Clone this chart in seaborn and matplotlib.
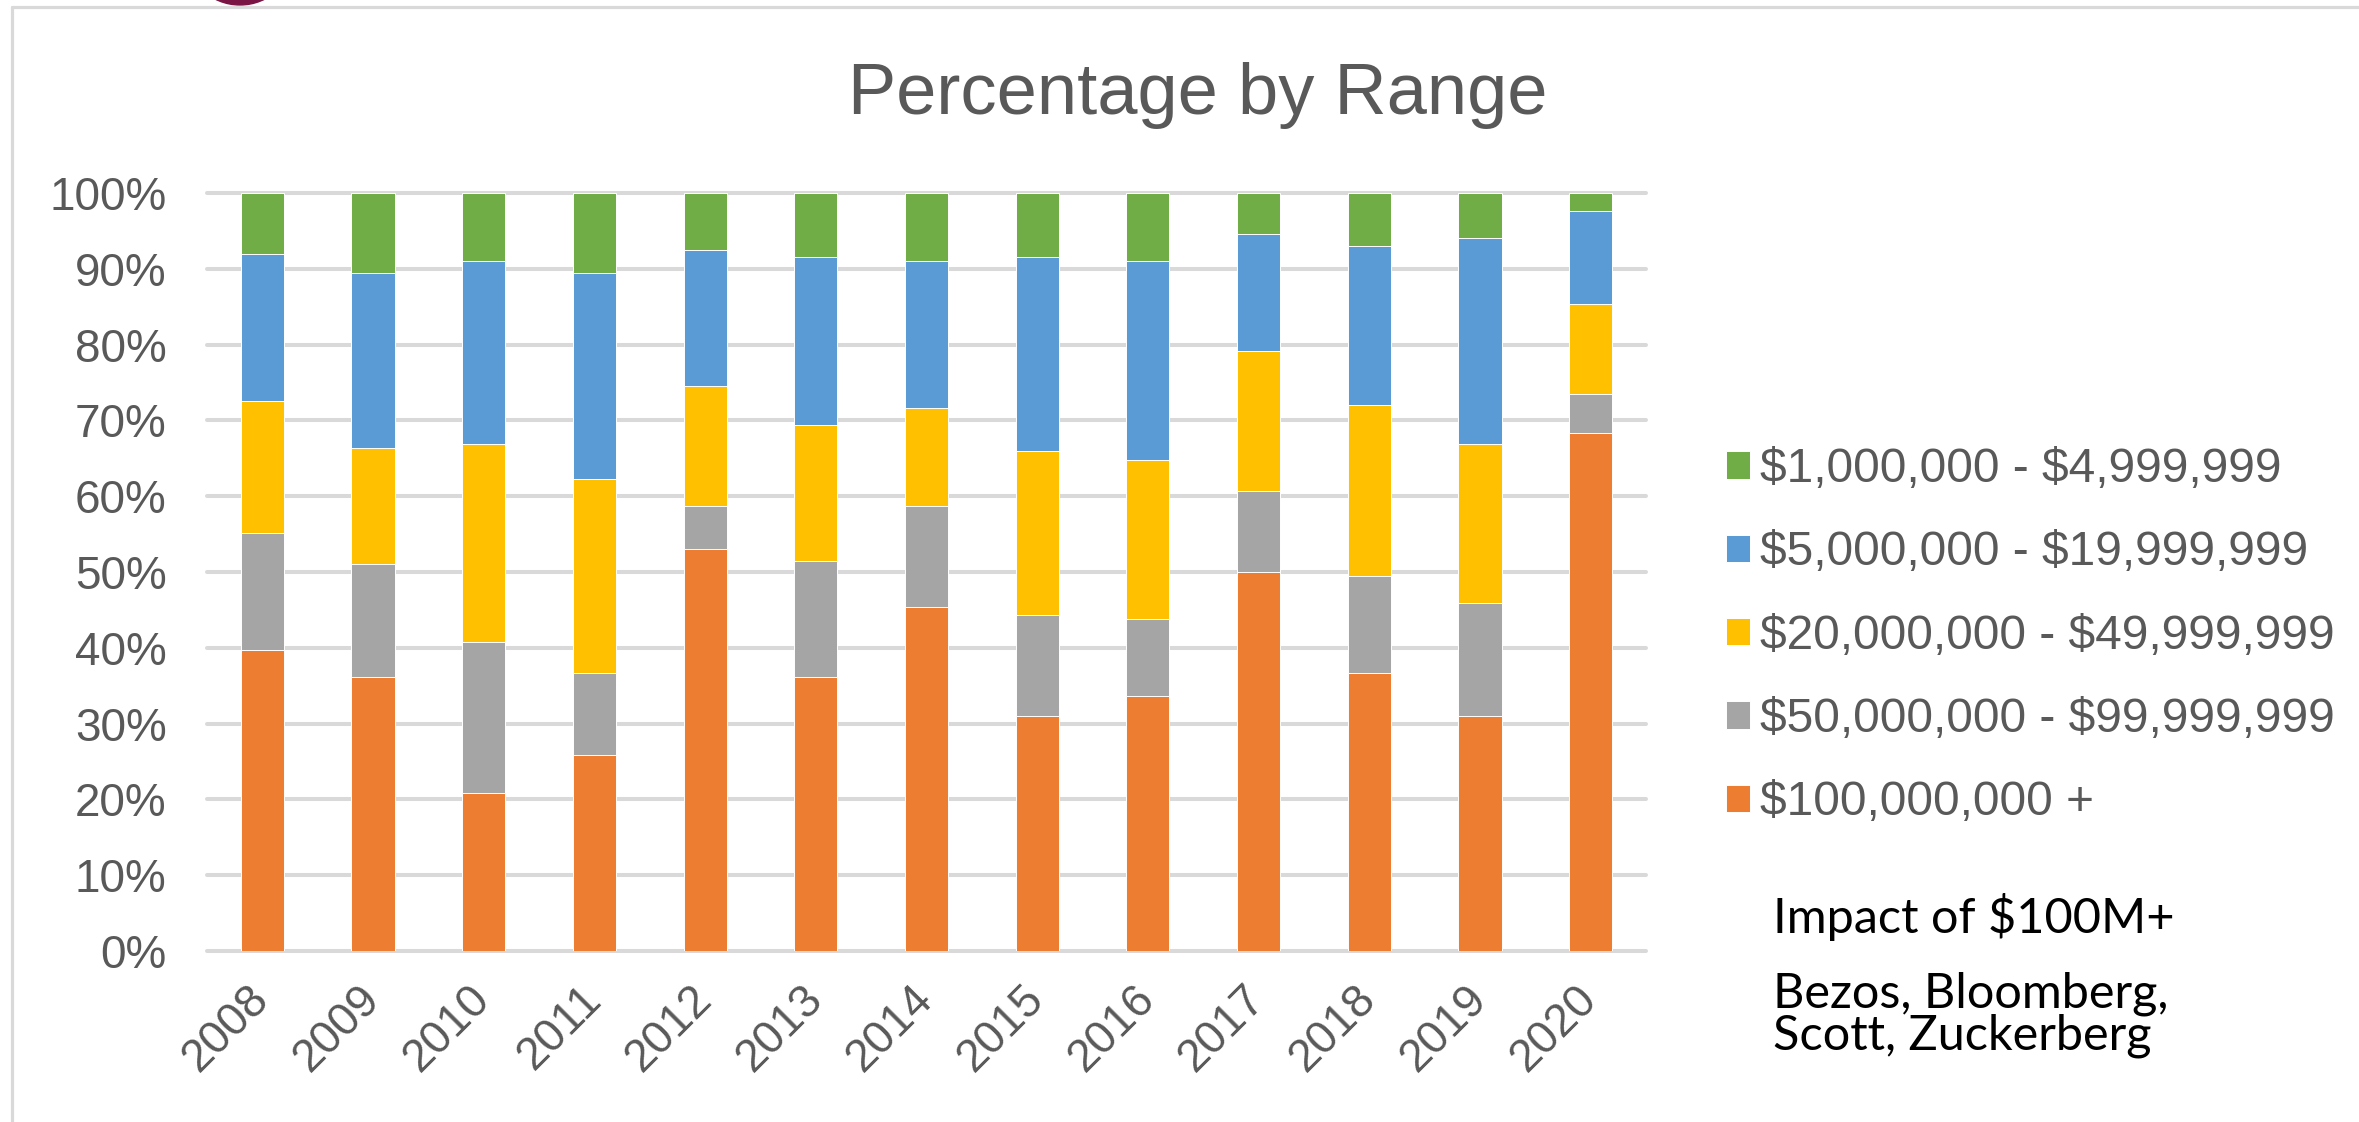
import numpy as np
import matplotlib
matplotlib.use("Agg")
import matplotlib.pyplot as plt
import matplotlib.patches as mpatches
from matplotlib.lines import Line2D
from matplotlib.ticker import FuncFormatter
import seaborn as sns

# ---- data: share of gifts (%) by gift size, per year ----
years = ["2008", "2009", "2010", "2011", "2012", "2013", "2014",
         "2015", "2016", "2017", "2018", "2019", "2020"]

pct_100m_plus = [39.7, 36.1, 20.8, 25.8, 53.1, 36.1, 45.4, 31.0, 33.6, 50.0, 36.7, 31.0, 68.4]
pct_50m_100m = [15.4, 14.9, 19.9, 10.85, 5.6, 15.4, 13.3, 13.3, 10.2, 10.75, 12.8, 14.9, 5.1]
pct_20m_50m = [17.5, 15.4, 26.2, 25.65, 15.9, 17.95, 12.9, 21.6, 21.0, 18.45, 22.5, 21.0, 11.9]
pct_5m_20m = [19.4, 23.05, 24.1, 27.15, 17.9, 22.05, 19.4, 25.6, 26.2, 15.4, 21.0, 27.2, 12.2]
pct_1m_5m = [8.0, 10.55, 9.0, 10.55, 7.5, 8.5, 9.0, 8.5, 9.0, 5.4, 7.0, 5.9, 2.4]

# bottom-to-top stacking order
band_labels = [
    "\\$100,000,000 +",
    "\\$50,000,000 - \\$99,999,999",
    "\\$20,000,000 - \\$49,999,999",
    "\\$5,000,000 - \\$19,999,999",
    "\\$1,000,000 - \\$4,999,999",
]
band_colors = ["#ED7D31", "#A5A5A5", "#FFC000", "#5B9BD5", "#70AD47"]

title_text = "Percentage by Range"
note_lines = ["Impact of \\$100M+", "Bezos, Bloomberg,", "Scott, Zuckerberg"]

# ---- figure ----
sns.set_theme(style="white")
plt.rcParams["font.family"] = ["Liberation Sans", "DejaVu Sans"]

W, H = 2359, 1122
fig = plt.figure(figsize=(W / 100, H / 100), dpi=100)
fig.patch.set_facecolor("white")

def fx(px):
    return px / W

def fy(py):
    return 1 - py / H

ax = fig.add_axes([fx(207), fy(951), fx(1646 - 207), (951 - 193) / H])

layers = np.vstack([pct_100m_plus, pct_50m_100m, pct_20m_50m, pct_5m_20m, pct_1m_5m])
cumulative = np.cumsum(layers, axis=0)

# draw running totals from the top band down so each band shows as a stacked segment
for i in range(len(band_labels) - 1, -1, -1):
    sns.barplot(x=years, y=cumulative[i], color=band_colors[i], saturation=1,
                width=0.39, edgecolor="white", linewidth=0.7,
                label=band_labels[i], ax=ax, zorder=3)

ax.set_xlim(-0.5, 12.5)
ax.set_ylim(0, 100)
ax.set_yticks(np.arange(0, 101, 10))
ax.yaxis.set_major_formatter(FuncFormatter(lambda v, _: f"{v:.0f}%"))
ax.set_xlabel("")
ax.set_ylabel("")
for s in ax.spines.values():
    s.set_visible(False)

ax.yaxis.grid(True, color="#d9d9d9", linewidth=2.9)
ax.xaxis.grid(False)
ax.set_axisbelow(True)
for gl in ax.get_ygridlines():
    gl.set_clip_on(False)

ax.tick_params(axis="y", length=0, labelsize=33, labelcolor="#595959", pad=29)
ax.tick_params(axis="x", length=0, labelsize=33, labelcolor="#595959", pad=30)
ax.set_xticks(range(len(years)))
ax.set_xticklabels(years)
plt.setp(ax.get_xticklabels(), rotation=45, ha="right", va="center",
         rotation_mode="anchor")

leg_fs = 34.5
leg = ax.legend(loc="upper left", bbox_to_anchor=(fx(1726), fy(447)),
                bbox_transform=fig.transFigure, frameon=False, fontsize=leg_fs,
                handlelength=24 / (leg_fs * 100 / 72), handleheight=24 / (leg_fs * 100 / 72),
                handletextpad=0.2, labelspacing=0.8, borderpad=0, borderaxespad=0)
for t in leg.get_texts():
    t.set_color("#595959")

fig.text(fx(1198), fy(114), title_text, ha="center", va="baseline",
         fontsize=52, color="#595959")

note_font = ["Lato", "DejaVu Sans"]
fig.text(fx(1773), fy(933), note_lines[0], ha="left", va="baseline",
         fontsize=35, color="black", family=note_font)
fig.text(fx(1773), fy(1007), note_lines[1], ha="left", va="baseline",
         fontsize=35, color="black", family=note_font)
fig.text(fx(1773), fy(1050), note_lines[2], ha="left", va="baseline",
         fontsize=35, color="black", family=note_font)

# chart-area outline and the slide ornament peeking in at the top
fig.add_artist(Line2D([fx(12), 1], [fy(7), fy(7)], transform=fig.transFigure,
                      color="#d9d9d9", linewidth=2.3))
fig.add_artist(Line2D([fx(12), fx(12)], [fy(7), 0], transform=fig.transFigure,
                      color="#d9d9d9", linewidth=2.3))
fig.add_artist(mpatches.Ellipse((fx(240), fy(-50)), width=110 / W, height=110 / H,
                                transform=fig.transFigure, color="#7a1444"))

fig.savefig("out.png", dpi=100, facecolor="white")
